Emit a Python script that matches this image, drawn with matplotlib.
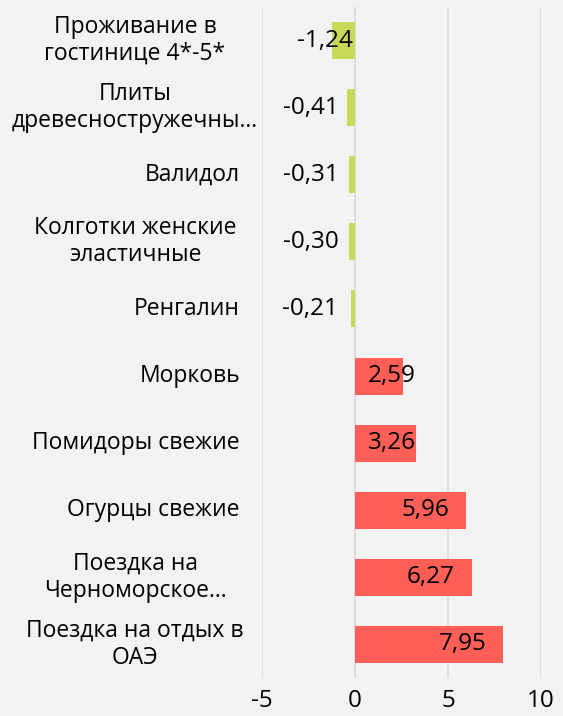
"""
Horizontal bar chart of price changes, negative values in green, positive in red.
"""
import matplotlib
matplotlib.use('Agg')
import matplotlib.pyplot as plt

plt.rcParams['font.family'] = ['Open Sans', 'DejaVu Sans']

categories = [
    'Проживание в\nгостинице 4*-5*',
    'Плиты\nдревесностружечны...',
    'Валидол',
    'Колготки женские\nэластичные',
    'Ренгалин',
    'Морковь',
    'Помидоры свежие',
    'Огурцы свежие',
    'Поездка на\nЧерноморское...',
    'Поездка на отдых в\nОАЭ',
]
values = [-1.24, -0.41, -0.31, -0.30, -0.21, 2.59, 3.26, 5.96, 6.27, 7.95]
x_ticks = [-5, 0, 5, 10]

BG = '#f2f2f2'
GREEN = '#c8d95a'
RED = '#ff5f57'
FS = 16.5
FS_NUM = 17.5

fig = plt.figure(figsize=(5.63, 7.16), dpi=100, facecolor=BG)
ax = fig.add_axes([262 / 563, 38 / 716, 279 / 563, 671 / 716])
ax.set_facecolor(BG)

pos = list(range(len(values)))
colors = [GREEN if v < 0 else RED for v in values]
ax.barh(pos, values, height=0.55, color=colors, zorder=2)

ax.set_xlim(-5, 10)
ax.set_ylim(len(values) - 0.5, -0.5)
ax.set_xticks(x_ticks)
ax.set_xticklabels([str(t) for t in x_ticks], fontsize=FS_NUM)
ax.set_yticks([])
ax.tick_params(axis='x', length=0, pad=8)
ax.grid(True, axis='x', color='#d9d9d9', linewidth=1.2, zorder=0)
for s in ax.spines.values():
    s.set_visible(False)

# category labels: single lines right aligned, wrapped ones centred
ytr = ax.get_yaxis_transform()
for i, cat in enumerate(categories):
    if '\n' in cat:
        ax.text(-0.455, i, cat, transform=ytr, ha='center', va='center',
                multialignment='center', fontsize=FS, linespacing=1.15)
    else:
        ax.text(-0.079, i, cat, transform=ytr, ha='right', va='center',
                fontsize=FS)

# value labels
for i, v in enumerate(values):
    txt = f'{v:.2f}'.replace('.', ',')
    if v < 0:
        xr = v + 1.1 if v < -1 else -0.9
        ax.text(xr, i, txt, ha='right', va='center', fontsize=FS_NUM, zorder=3)
    elif v > 4:
        ax.text(v - 0.9, i, txt, ha='right', va='center', fontsize=FS_NUM, zorder=3)
    else:
        ax.text(0.7, i, txt, ha='left', va='center', fontsize=FS_NUM, zorder=3)

plt.savefig('out.png', dpi=100, facecolor=BG)
plt.close()
